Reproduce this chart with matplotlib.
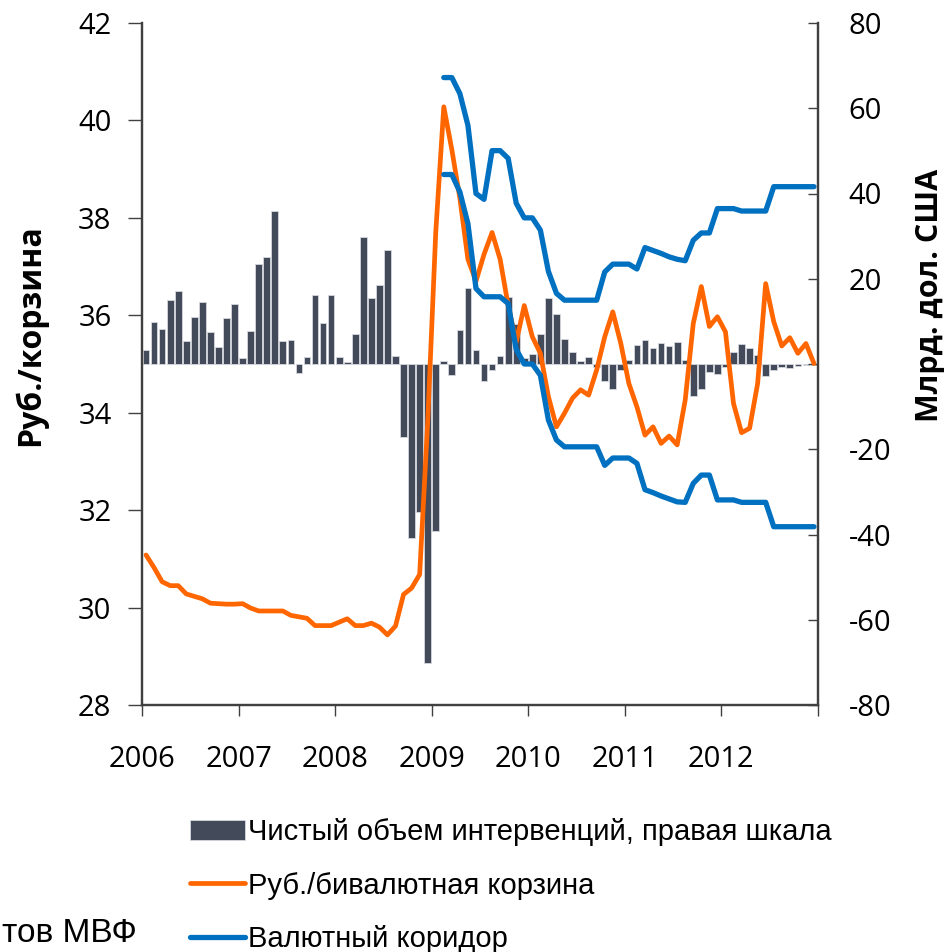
import numpy as np
import matplotlib
matplotlib.use("Agg")
import matplotlib.pyplot as plt
from matplotlib import font_manager

# monthly data, Jan 2006 - Dec 2012
years = ["2006", "2007", "2008", "2009", "2010", "2011", "2012"]

intervention = [
    3.4, 9.8, 8.2, 14.9, 17.1, 5.4, 11.1, 14.6, 7.5, 3.9, 10.8, 14.0,
    1.3, 7.7, 23.5, 25.2, 35.9, 5.4, 5.7, -2.0, 1.7, 16.1, 9.6, 16.1,
    1.6, 0.4, 7.0, 29.9, 15.6, 18.5, 26.7, 1.8, -17.1, -40.8, -34.7, -70.1,
    -39.2, 0.8, -2.6, 8.0, 17.9, 3.4, -4.1, -1.4, 1.9, 15.8, 9.3, 1.3,
    2.3, 7.0, 15.6, 11.7, 5.8, 2.9, 0.7, 1.6, -0.8, -3.9, -5.9, -1.4,
    1.0, 4.4, 5.7, 3.7, 4.9, 4.3, 5.2, 0.9, -7.4, -5.8, -1.8, -2.3,
    -0.6, 2.8, 4.6, 3.8, 2.1, -2.8, -1.5, -0.6, -0.9, -0.5, -0.3, -0.2,
]

basket = [
    31.08, 30.82, 30.53, 30.45, 30.45, 30.28, 30.23, 30.18, 30.09, 30.08, 30.07, 30.07,
    30.08, 29.99, 29.93, 29.93, 29.93, 29.93, 29.84, 29.81, 29.78, 29.63, 29.63, 29.63,
    29.70, 29.77, 29.63, 29.63, 29.68, 29.60, 29.44, 29.62, 30.27, 30.40, 30.68, 33.8,
    37.7, 40.28, 39.4, 38.4, 37.15, 36.7, 37.25, 37.7, 37.15, 36.2, 35.45, 36.2,
    35.56, 35.22, 34.33, 33.71, 33.99, 34.3, 34.47, 34.36, 34.88, 35.56, 36.07, 35.42,
    34.60, 34.12, 33.54, 33.71, 33.37, 33.52, 33.34, 34.26, 35.83, 36.59, 35.77, 35.97,
    35.66, 34.19, 33.59, 33.68, 34.60, 36.65, 35.87, 35.37, 35.54, 35.22, 35.42, 35.01,
]

# currency corridor, Feb 2009 - Dec 2012
corridor_start = 37
corridor_upper = [
    40.88, 40.88, 40.55, 39.9, 38.5, 38.38, 39.38, 39.38, 39.22, 38.3, 38.0,
    38.0, 37.75, 36.9, 36.45, 36.31, 36.31, 36.31, 36.31, 36.31, 36.89, 37.05, 37.05,
    37.05, 36.95, 37.39, 37.33, 37.27, 37.2, 37.15, 37.12, 37.54, 37.69, 37.69, 38.19,
    38.19, 38.19, 38.14, 38.14, 38.14, 38.14, 38.64, 38.64, 38.64, 38.64, 38.64, 38.64,
]
corridor_lower = [
    38.89, 38.89, 38.53, 37.88, 36.55, 36.38, 36.38, 36.38, 36.24, 35.3, 35.0,
    35.0, 34.77, 33.85, 33.44, 33.3, 33.3, 33.3, 33.3, 33.3, 32.92, 33.07, 33.07,
    33.07, 32.96, 32.42, 32.36, 32.29, 32.23, 32.17, 32.16, 32.55, 32.72, 32.72, 32.21,
    32.21, 32.21, 32.16, 32.16, 32.16, 32.16, 31.66, 31.66, 31.66, 31.66, 31.66, 31.66,
]

labels = ["Чистый объем интервенций, правая шкала",
          "Руб./бивалютная корзина",
          "Валютный коридор"]
source = "тов МВФ"

bar_color = "#434a5a"
orange = "#ff6600"
blue = "#0070c0"
spine_color = "#404040"

installed = {f.name for f in font_manager.fontManager.ttflist}
narrow = "Liberation Sans Narrow" if "Liberation Sans Narrow" in installed else "Liberation Sans"
plt.rcParams["font.family"] = ["Open Sans", "DejaVu Sans"]

fig = plt.figure(figsize=(9.49, 9.52), dpi=100)
ax = fig.add_axes([142 / 949, 1 - 705 / 952, 676 / 949, 682 / 952])
ax2 = ax.twinx()

n = len(basket)
x = np.arange(n) + 0.5
xc = np.arange(corridor_start, corridor_start + len(corridor_upper)) + 0.5

bars = ax2.bar(x, intervention, width=0.83, color=bar_color,
               edgecolor="#d5d8de", linewidth=0.6)
line_b, = ax.plot(x, basket, color=orange, lw=3.4, solid_capstyle="round",
                  solid_joinstyle="round")
line_c, = ax.plot(xc, corridor_upper, color=blue, lw=3.8, solid_capstyle="round",
                  solid_joinstyle="round")
ax.plot(xc, corridor_lower, color=blue, lw=3.8, solid_capstyle="round",
        solid_joinstyle="round")

ax.set_zorder(ax2.get_zorder() + 1)
ax.patch.set_visible(False)

ax.set_xlim(0, n)
ax.set_ylim(28, 42)
ax2.set_ylim(-80, 80)
ax.set_yticks(np.arange(28, 43, 2))
ax2.set_yticks(np.arange(-80, 81, 20))
ax2.set_yticklabels(["" if v == 0 else str(v) for v in range(-80, 81, 20)])
ax.set_xticks(np.arange(0, n + 1, 12))
ax.set_xticklabels(years + [""])

for a in (ax, ax2):
    a.spines["top"].set_visible(False)
    for s in ("left", "right", "bottom"):
        a.spines[s].set_color(spine_color)
        a.spines[s].set_linewidth(1.6)

ax.tick_params(axis="y", direction="out", length=10, width=1, colors=spine_color,
               labelcolor="black", labelsize=21, pad=12)
ax.tick_params(axis="x", direction="out", length=8, width=1, colors=spine_color,
               labelcolor="black", labelsize=21, pad=21)
ax2.tick_params(axis="y", direction="in", length=7, width=1, colors=spine_color,
                labelcolor="black", labelsize=21, pad=22)

fig.text(30 / 949, 1 - 335 / 952, "Руб./корзина", rotation=90, ha="center",
         va="center", fontsize=23, fontweight="bold")
fig.text(930 / 949, 1 - 295 / 952, "Млрд. дол. США", rotation=90, ha="center",
         va="center", fontsize=22, fontweight="bold")

fig.legend([bars, line_b, line_c], labels, loc="upper left",
           bbox_to_anchor=(190 / 949, 1 - 818 / 952), frameon=False,
           prop={"family": [narrow, "DejaVu Sans"], "size": 21},
           handlelength=1.9, handletextpad=0.1, labelspacing=0.88,
           borderpad=0, borderaxespad=0)

fig.text(2 / 949, 1 - 934 / 952, source, ha="left",
         va="center", fontsize=24, family=[narrow, "DejaVu Sans"])

fig.savefig("out.png", dpi=100)
